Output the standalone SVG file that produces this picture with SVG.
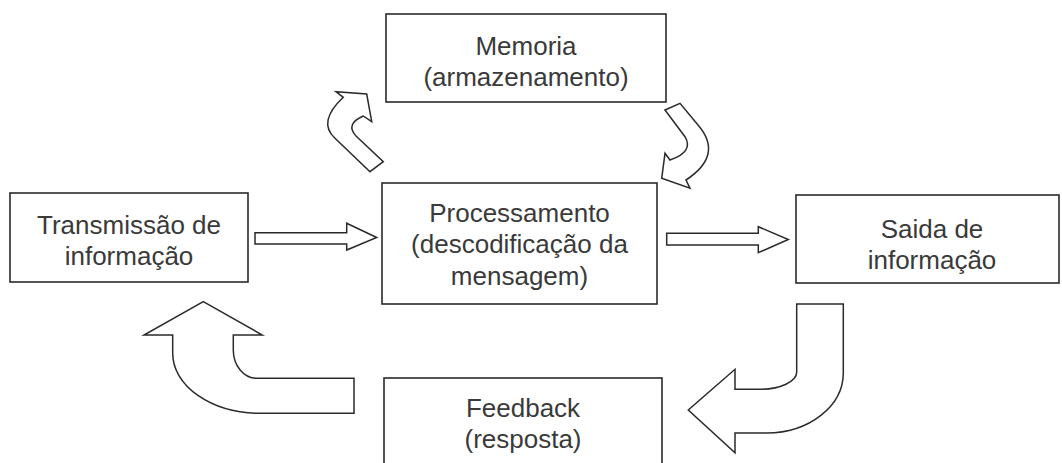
<svg xmlns="http://www.w3.org/2000/svg" width="1062" height="463" viewBox="0 0 1062 463">
  <style>
    .box { fill: #ffffff; stroke: #2a2a2a; stroke-width: 1.6; }
    .arrow { fill: #ffffff; stroke: #2a2a2a; stroke-width: 1.5; stroke-linejoin: miter; }
    .label { font-family: "Liberation Sans", Arial, sans-serif; font-size: 26px; fill: #3a3a3a; text-anchor: middle; }
  </style>
  <rect x="0" y="0" width="1062" height="463" fill="#ffffff"/>

  <g id="connectors">
    <path class="arrow" d="M 370 171.7 L 383.3 161.7 L 356 136 Q 345 124 363.3 116 L 371.7 121.7 L 366.7 94 L 336 91.7 L 343.3 97.3 Q 317 122 335 138.3 Z"/>
    <path class="arrow" d="M 665 110 L 680 103.3 L 698 125 Q 724 155 686 180 L 690 188.3 L 661.7 178.3 L 665 153.3 L 670 160 Q 694 152 685 136.7 Z"/>
    <path class="arrow" d="M 255 232.7 L 346.7 232.7 L 346.7 223.3 L 376.7 237.5 L 346.7 250 L 346.7 244 L 255 244 Z"/>
    <path class="arrow" d="M 666.7 233.3 L 758.3 233.3 L 758.3 226.7 L 788.3 239.5 L 758.3 252.7 L 758.3 245 L 666.7 245 Z"/>
    <path class="arrow" d="M 796.7 304 L 843.3 304 L 843.3 373 A 76.6 60 0 0 1 766.7 433 L 735 433 L 735 452.7 L 688.3 410 L 735 369.3 L 735 389.3 L 760 389.3 A 36.7 17.3 0 0 0 796.7 372 Z"/>
    <path class="arrow" d="M 203.3 301.7 L 262.3 335 L 233.3 335 L 233.3 350 A 23.4 28.3 0 0 0 256.7 378.3 L 354 378.3 L 354 413.3 L 260 413.3 A 87.3 60 0 0 1 172.7 353.3 L 172.7 335 L 144 335 Z"/>
  </g>

  <g id="memoria">
    <rect class="box" x="386" y="14" width="280" height="88"/>
    <text class="label" x="526" y="55">Memoria</text>
    <text class="label" x="526" y="86">(armazenamento)</text>
  </g>

  <g id="processamento">
    <rect class="box" x="382" y="183" width="275" height="121"/>
    <text class="label" x="519.5" y="222">Processamento</text>
    <text class="label" x="519.5" y="253">(descodificação da</text>
    <text class="label" x="519.5" y="285">mensagem)</text>
  </g>

  <g id="transmissao">
    <rect class="box" x="10" y="193" width="238" height="89"/>
    <text class="label" x="129" y="234">Transmissão de</text>
    <text class="label" x="129" y="265">informação</text>
  </g>

  <g id="saida">
    <rect class="box" x="796" y="195" width="263" height="88"/>
    <text class="label" x="932" y="238">Saida de</text>
    <text class="label" x="932" y="269">informação</text>
  </g>

  <g id="feedback">
    <rect class="box" x="384" y="378" width="278" height="95"/>
    <text class="label" x="523" y="417">Feedback</text>
    <text class="label" x="523" y="448">(resposta)</text>
  </g>
</svg>
